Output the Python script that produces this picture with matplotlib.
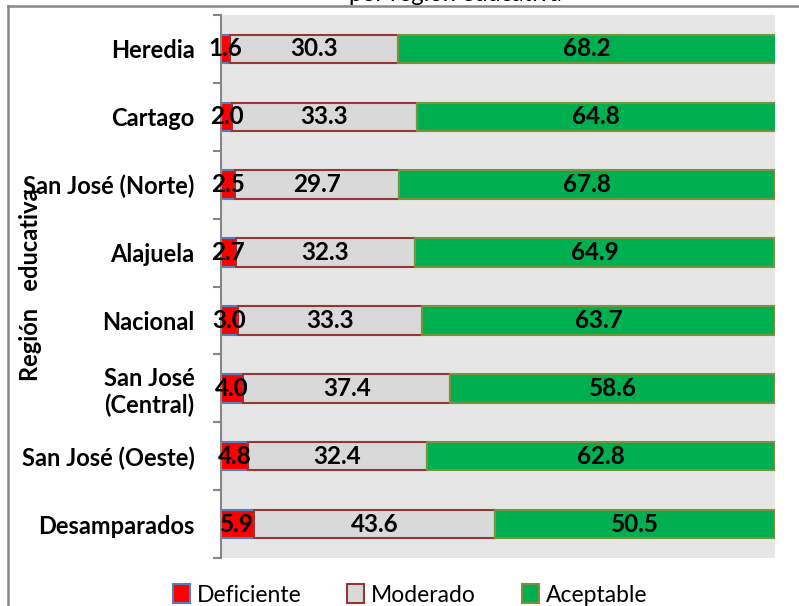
import numpy as np
import matplotlib
matplotlib.use("Agg")
import matplotlib.pyplot as plt
from matplotlib.patches import Patch
from matplotlib.lines import Line2D

plt.rcParams['font.family'] = ['Lato', 'DejaVu Sans']

regions = ["Heredia", "Cartago", "San José (Norte)", "Alajuela", "Nacional",
           "San José\n(Central)", "San José (Oeste)", "Desamparados"]
deficiente = [1.6, 2.0, 2.5, 2.7, 3.0, 4.0, 4.8, 5.9]
moderado = [30.3, 33.3, 29.7, 32.3, 33.3, 37.4, 32.4, 43.6]
aceptable = [68.2, 64.8, 67.8, 64.9, 63.7, 58.6, 62.8, 50.5]
series_names = ["Deficiente", "Moderado", "Aceptable"]

face_cols = ["#FF0000", "#D9D9D9", "#00B050"]
edge_cols = ["#4F81BD", "#953735", "#77933C"]

W, H = 799, 606
fig = plt.figure(figsize=(W / 100, H / 100), dpi=100)
ax = fig.add_axes([221 / W, 1 - 558 / H, 554 / W, 543 / H])
ax.set_facecolor("#E6E6E6")

y = np.arange(len(regions))
left = np.zeros(len(regions))
for vals, fc, ec in zip([deficiente, moderado, aceptable], face_cols, edge_cols):
    vals = np.array(vals)
    ax.barh(y, vals, left=left, height=0.42, color=fc, edgecolor=ec, linewidth=1.5)
    for yi, l, v in zip(y, left, vals):
        ax.text(l + v / 2, yi, f"{v:.1f}", ha="center", va="center",
                fontsize=17.5, fontweight="bold", color="black")
    left = left + vals

ax.set_xlim(0, 100)
ax.set_ylim(len(regions) - 0.5, -0.5)

# category boundaries get the tick marks, labels sit at the centres
ax.set_yticks(np.arange(-0.5, len(regions)), labels=[])
ax.set_yticks(y, labels=regions, minor=True)
ax.tick_params(axis="y", which="major", length=6, width=1.5, color="#868686", direction="out")
ax.tick_params(axis="y", which="minor", length=0, pad=19, labelsize=17)
for lab in ax.get_yticklabels(minor=True):
    lab.set_fontweight("bold")
    lab.set_multialignment("center")
ax.set_xticks([])
for s in ["top", "right", "bottom"]:
    ax.spines[s].set_visible(False)
ax.spines["left"].set_color("#868686")
ax.spines["left"].set_linewidth(1.5)

fig.text(31 / W, 1 - 285 / H, "Región   educativa", rotation=90, ha="center", va="center",
         fontsize=17, fontweight="bold")

# title is cut off by the top of the image
fig.text(455 / W, 1 - 1 / H, "por región educativa", ha="center", va="baseline", fontsize=17)

# outer chart frame
fig.add_artist(Line2D([8 / W, 8 / W], [0, 1 - 6 / H], color="#888888", lw=1.8))
fig.add_artist(Line2D([8 / W, 1], [1 - 6 / H, 1 - 6 / H], color="#888888", lw=1.8))

handles = [Patch(facecolor=fc, edgecolor=ec, linewidth=1.5) for fc, ec in zip(face_cols, edge_cols)]
fig.legend(handles, series_names, loc="center", bbox_to_anchor=(410 / W, 1 - 595 / H),
           ncol=3, frameon=False, fontsize=16.5, handlelength=0.75, handleheight=0.9,
           handletextpad=0.3, columnspacing=2.0, borderpad=0)

fig.savefig("out.png", dpi=100)
